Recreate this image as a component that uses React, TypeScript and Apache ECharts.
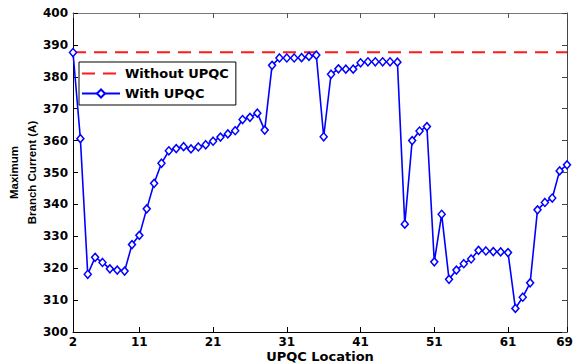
import React, { useEffect, useRef } from "react";
import * as echarts from "echarts";

const locations = [
  2, 3, 4, 5, 6, 7, 8, 9, 10, 11, 12, 13, 14, 15, 16, 17, 18, 19, 20, 21, 22, 23, 24, 25, 26, 27, 28, 29, 30, 31, 32, 33, 34, 35,
  36, 37, 38, 39, 40, 41, 42, 43, 44, 45, 46, 47, 48, 49, 50, 51, 52, 53, 54, 55, 56, 57, 58, 59, 60, 61, 62, 63, 64, 65, 66, 67, 68, 69,
];
const withUpqc = [
  387.6, 360.6, 318.1, 323.4, 321.8, 319.8, 319.4, 319.1, 327.4, 330.3, 338.6, 346.6, 352.9, 356.8, 357.5, 358.1, 357.4, 358.0,
  358.7, 359.8, 361.1, 362.1, 363.1, 366.6, 367.3, 368.6, 363.3, 383.6, 385.9, 385.9, 385.9, 386.0, 386.4, 386.8, 361.2, 380.8,
  382.5, 382.4, 382.4, 384.4, 384.7, 384.7, 384.7, 384.7, 384.6, 333.8, 360.0, 363.0, 364.4, 322.0, 336.9, 316.5, 319.4, 321.4,
  322.9, 325.6, 325.4, 325.2, 325.1, 324.9, 307.4, 310.9, 315.4, 338.3, 340.6, 342.0, 350.5, 352.4,
];
const withoutLocations = [2, 69];
const withoutUpqc = [387.7, 387.7];
const xTicks = [2, 11, 21, 31, 41, 51, 61, 69];

export default function App() {
  const ref = useRef<HTMLDivElement>(null);
  useEffect(() => {
    if (!ref.current) return;
    const chart = echarts.init(ref.current, undefined, { renderer: "svg" });
    const tickFont = { fontFamily: "DejaVu Sans", fontWeight: "bold" as const, fontSize: 12, color: "#000" };
    const lastTick = xTicks[xTicks.length - 1];
    chart.setOption({
      animation: false,
      backgroundColor: "#fff",
      grid: { left: 73, right: 6, top: 13, bottom: 32, containLabel: false, outerBoundsMode: "none" },
      legend: {
        orient: "vertical",
        left: 79,
        top: 62,
        padding: [5, 7, 5, 2],
        itemWidth: 38,
        itemHeight: 10,
        itemGap: 7,
        borderColor: "#000",
        borderWidth: 1,
        borderRadius: 0,
        backgroundColor: "#fff",
        textStyle: { fontFamily: "DejaVu Sans", fontWeight: "bold", fontSize: 13, color: "#000" },
        data: [
          { name: "Without UPQC", itemStyle: { opacity: 0, color: "transparent", borderWidth: 0 } },
          { name: "With UPQC" },
        ],
      },
      xAxis: [
        {
          type: "value",
          min: 2,
          max: 69,
          name: "UPQC Location",
          nameLocation: "middle",
          nameGap: 17,
          nameMoveOverlap: false,
          nameTextStyle: { fontFamily: "DejaVu Sans", fontWeight: "bold", fontSize: 13, lineHeight: 14, color: "#000" },
          axisLine: { show: true, lineStyle: { color: "#000", width: 1 } },
          axisTick: { show: true, inside: true, length: 5, customValues: xTicks, lineStyle: { color: "#000" } },
          axisLabel: {
            show: true,
            customValues: xTicks,
            margin: 4,
            lineHeight: 12,
            ...tickFont,
            formatter: (v: number) => (v === lastTick ? `{e|${v}}` : String(v)),
            rich: { e: { ...tickFont, lineHeight: 12, padding: [0, 5, 0, 0] } },
          },
          splitLine: { show: false },
        },
        {
          type: "value",
          position: "top",
          min: 2,
          max: 69,
          axisLine: { show: true, lineStyle: { color: "#777", width: 1 } },
          axisTick: { show: true, inside: true, length: 5, customValues: xTicks, lineStyle: { color: "#555" } },
          axisLabel: { show: false },
          splitLine: { show: false },
        },
      ],
      yAxis: [
        {
          type: "value",
          min: 300,
          max: 400,
          interval: 10,
          name: "Maximum\nBranch Current (A)",
          nameLocation: "middle",
          nameRotate: 90,
          nameGap: 32,
          nameMoveOverlap: false,
          nameTextStyle: {
            fontFamily: "Liberation Sans",
            fontWeight: "bold",
            fontSize: 11.5,
            lineHeight: 18,
            color: "#000",
          },
          axisLine: { show: true, lineStyle: { color: "#000", width: 1 } },
          axisTick: { show: true, inside: true, length: 5, lineStyle: { color: "#000" } },
          axisLabel: { margin: 5, ...tickFont },
          splitLine: { show: false },
        },
        {
          type: "value",
          position: "right",
          min: 300,
          max: 400,
          interval: 10,
          axisLine: { show: true, lineStyle: { color: "#444", width: 1 } },
          axisTick: { show: true, inside: true, length: 5, lineStyle: { color: "#444" } },
          axisLabel: { show: false },
          splitLine: { show: false },
        },
      ],
      series: [
        {
          name: "Without UPQC",
          type: "line",
          xAxisIndex: 0,
          yAxisIndex: 0,
          data: withoutLocations.map((x, i) => [x, withoutUpqc[i]]),
          symbol: "none",
          lineStyle: { color: "#ff1a1a", width: 2, type: [13, 8] },
          itemStyle: { color: "#ff1a1a" },
          z: 2,
        },
        {
          name: "With UPQC",
          type: "line",
          xAxisIndex: 0,
          yAxisIndex: 0,
          data: locations.map((x, i) => [x, withUpqc[i]]),
          symbol: "diamond",
          symbolSize: [7, 8],
          showAllSymbol: true,
          lineStyle: { color: "#0000ff", width: 1.6 },
          itemStyle: { color: "#fff", borderColor: "#0000ff", borderWidth: 1.5 },
          z: 3,
        },
      ],
    });
    return () => chart.dispose();
  }, []);
  return <div ref={ref} style={{ position: "fixed", left: 0, top: 0, width: 573, height: 364 }} />;
}
